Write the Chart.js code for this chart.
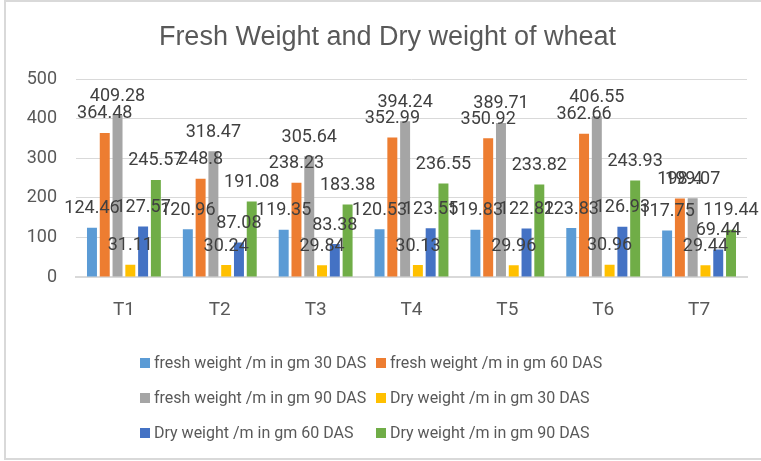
<!DOCTYPE html>
<html>
<head>
<meta charset="utf-8">
<script src="https://cdn.jsdelivr.net/npm/chart.js@4.4.1/dist/chart.umd.min.js"></script>
<style>
  html, body { margin: 0; padding: 0; background: #fff; }
  #wrap { position: relative; width: 761px; height: 461px; overflow: hidden; background: #fff; }
  #frame { position: absolute; left: 4px; top: 0px; width: 800px; height: 460px; box-sizing: border-box; border: 2px solid #d9d9d9; pointer-events: none; }
  canvas { position: absolute; left: 0; top: 0; }
  #legend { position: absolute; left: 0; top: 0; width: 761px; height: 461px; pointer-events: none;
            font-family: Roboto, "Liberation Sans", sans-serif; font-size: 16px; color: #595959; }
  .item { position: absolute; white-space: nowrap; line-height: 20px; height: 20px; }
  .box { display: inline-block; width: 10px; height: 10px; margin-right: 4px; vertical-align: 0px; }
</style>
</head>
<body>
<div id="wrap">
  <canvas id="c" width="761" height="461"></canvas>
  <div id="legend"></div>
  <div id="frame"></div>
</div>
<script>
const categories = ["T1", "T2", "T3", "T4", "T5", "T6", "T7"];
const seriesNames = [
  "fresh weight /m in gm 30 DAS",
  "fresh weight /m in gm 60 DAS",
  "fresh weight /m in gm 90 DAS",
  "Dry weight /m in gm 30 DAS",
  "Dry weight /m in gm 60 DAS",
  "Dry weight /m in gm 90 DAS"
];
const fresh30 = [124.46, 120.96, 119.35, 120.53, 119.83, 123.83, 117.75];
const fresh60 = [364.48, 248.8, 238.23, 352.99, 350.92, 362.66, 198.4];
const fresh90 = [409.28, 318.47, 305.64, 394.24, 389.71, 406.55, 199.07];
const dry30 = [31.11, 30.24, 29.84, 30.13, 29.96, 30.96, 29.44];
const dry60 = [127.57, 87.08, 83.38, 123.55, 122.82, 126.93, 69.44];
const dry90 = [245.57, 191.08, 183.38, 236.55, 233.82, 243.93, 119.44];
const yTicks = [0, 100, 200, 300, 400, 500];
const colors = ["#5B9BD5", "#ED7D31", "#A5A5A5", "#FFC000", "#4472C4", "#70AD47"];
const seriesValues = [fresh30, fresh60, fresh90, dry30, dry60, dry90];

const dataLabels = {
  id: 'dataLabels',
  afterLayout(chart) {
    // centre the title over the same span as the reference
    if (chart.titleBlock) { chart.titleBlock.left = 14; chart.titleBlock.right = 761; }
  },
  afterDatasetsDraw(chart) {
    const ctx = chart.ctx;
    ctx.save();
    ctx.font = '18px Roboto, "Liberation Sans", sans-serif';
    ctx.fillStyle = '#404040';
    ctx.textAlign = 'center';
    ctx.textBaseline = 'middle';
    chart.data.datasets.forEach((ds, i) => {
      const meta = chart.getDatasetMeta(i);
      meta.data.forEach((el, j) => {
        ctx.fillText(String(ds.data[j]), el.x, el.y - 19);
      });
    });
    ctx.restore();
  }
};

new Chart(document.getElementById('c'), {
  type: 'bar',
  data: {
    labels: categories,
    datasets: seriesNames.map((n, i) => ({
      label: n,
      data: seriesValues[i],
      backgroundColor: colors[i],
      borderWidth: 0,
      categoryPercentage: 0.80,
      barPercentage: 0.78
    }))
  },
  options: {
    responsive: false,
    animation: false,
    devicePixelRatio: 1,
    layout: { padding: { left: 0, right: 14, top: 0, bottom: 0 } },
    plugins: {
      legend: { display: false },
      tooltip: { enabled: false },
      title: {
        display: true,
        text: 'Fresh Weight and Dry weight of wheat',
        color: '#595959',
        font: { family: '"Liberation Sans Narrow", "Liberation Sans", sans-serif', size: 27, weight: 'normal' },
        padding: { top: 21, bottom: 26 }
      }
    },
    scales: {
      x: {
        grid: { display: false, drawTicks: false },
        border: { display: true, color: '#d9d9d9', width: 2 },
        ticks: { color: '#595959', font: { family: 'Roboto, "Liberation Sans", sans-serif', size: 19 }, padding: 22 },
        afterFit(s) { s.height = 184; }
      },
      y: {
        min: 0, max: 500,
        afterBuildTicks(s) { s.ticks = yTicks.map(v => ({ value: v })); },
        grid: { color: '#d9d9d9', lineWidth: 1, drawTicks: false },
        border: { display: false },
        ticks: { color: '#595959', font: { family: 'Roboto, "Liberation Sans", sans-serif', size: 18 }, padding: 19 },
        afterFit(s) { s.width = 76; }
      }
    }
  },
  plugins: [dataLabels]
});

// HTML legend in two columns, three rows
const legend = document.getElementById('legend');
const colX = [140, 376];
const rowY = [353, 388, 423];
seriesNames.forEach((n, i) => {
  const d = document.createElement('div');
  d.className = 'item';
  d.style.left = colX[i % 2] + 'px';
  d.style.top = rowY[Math.floor(i / 2)] + 'px';
  d.innerHTML = '<span class="box" style="background:' + colors[i] + '"></span>' + n;
  legend.appendChild(d);
});
</script>
</body>
</html>
